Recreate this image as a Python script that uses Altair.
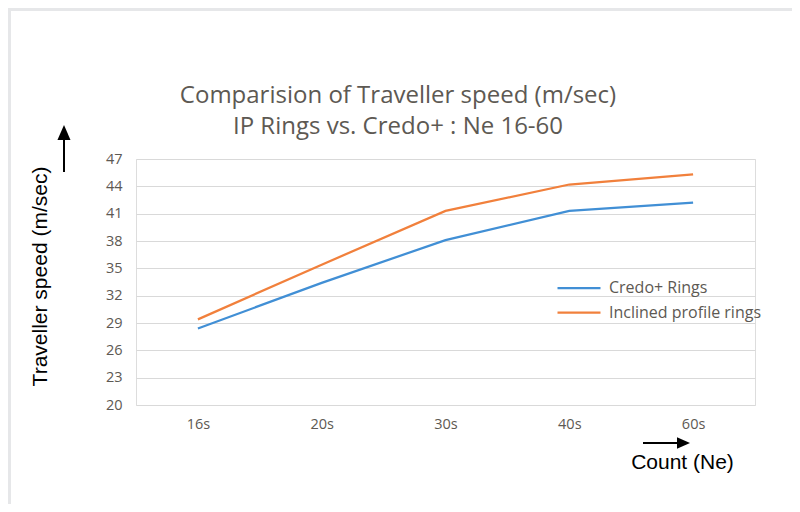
import altair as alt
import pandas as pd

counts = ["16s", "20s", "30s", "40s", "60s"]
credo = [28.4, 33.4, 38.1, 41.3, 42.2]
inclined = [29.4, 35.4, 41.3, 44.2, 45.3]
series_names = ["Credo+ Rings", "Inclined profile rings"]
y_ticks = [20, 23, 26, 29, 32, 35, 38, 41, 44, 47]
title_lines = ["Comparision of Traveller speed (m/sec)", "IP Rings vs. Credo+ : Ne 16-60"]

rows = []
for c, v in zip(counts, credo):
    rows.append({"Count": c, "Speed": v, "Series": series_names[0]})
for c, v in zip(counts, inclined):
    rows.append({"Count": c, "Speed": v, "Series": series_names[1]})
df = pd.DataFrame(rows)
one = pd.DataFrame({"t1": [title_lines[0]], "t2": [title_lines[1]]})

W, H = 619, 246
PL, PT = 128, 151
PR = 784 - PL - W
PB = 496 - PT - H

TICK_FONT = "Open Sans"
GREY = "#5d5953"

# legend line: path spans 2x the nominal symbol box, so length = 2*sqrt(size) = 43px
lines = alt.Chart(df).mark_line(strokeWidth=2.25).encode(
    x=alt.X("Count:O", sort=counts, scale=alt.Scale(type="point", padding=0.5),
            axis=alt.Axis(title="Count (Ne)", labelAngle=0, tickSize=0, domain=False,
                          grid=False, labelPadding=12, labelFontSize=14.5,
                          labelFont=TICK_FONT, labelColor=GREY,
                          titleFont="Liberation Sans", titleFontSize=21,
                          titleFontWeight="normal", titleColor="#000000",
                          titleX=546, titleY=57, titleAlign="center",
                          titleBaseline="middle")),
    y=alt.Y("Speed:Q", scale=alt.Scale(domain=[20, 47], nice=False, zero=False),
            axis=alt.Axis(title="Traveller speed (m/sec)", values=y_ticks, tickSize=0,
                          domain=False, gridColor="#d9d9d9", gridWidth=1.2,
                          labelPadding=14, labelFontSize=14.5, labelFont=TICK_FONT,
                          labelColor=GREY, titleFont="Liberation Sans",
                          titleFontSize=21, titleFontWeight="normal",
                          titleColor="#000000", titleX=-96, titleY=117,
                          titleAlign="center", titleBaseline="middle",
                          titleAngle=-90)),
    color=alt.Color("Series:N", sort=series_names,
                    scale=alt.Scale(domain=series_names, range=["#418fd5", "#f1803c"]),
                    legend=alt.Legend(title=None, orient="none", legendX=431, legendY=117,
                                      symbolType="M-2,0H2", symbolSize=462,
                                      symbolFillColor="transparent",
                                      symbolStrokeWidth=2.25, labelFontSize=16,
                                      labelFont=TICK_FONT, labelColor=GREY,
                                      labelOffset=18, rowPadding=4.5)),
)

title1 = alt.Chart(one).mark_text(font=TICK_FONT, fontSize=24, color=GREY,
                                  align="center", baseline="alphabetic").encode(
    text="t1:N", x=alt.value(262), y=alt.value(-56))
title2 = alt.Chart(one).mark_text(font=TICK_FONT, fontSize=24, color=GREY,
                                  align="center", baseline="alphabetic").encode(
    text="t2:N", x=alt.value(262), y=alt.value(-25))

# decorative arrows
y_shaft = alt.Chart(one).mark_rule(color="#000000", strokeWidth=2).encode(
    x=alt.value(-72), y=alt.value(-20), y2=alt.value(13))
y_head = alt.Chart(one).mark_point(shape="M-0.87,1L0.87,1L0,-1Z", filled=True,
                                   color="#000000", opacity=1, size=225).encode(
    x=alt.value(-72), y=alt.value(-26.5))
x_shaft = alt.Chart(one).mark_rule(color="#000000", strokeWidth=2).encode(
    x=alt.value(507), x2=alt.value(542), y=alt.value(284))
x_head = alt.Chart(one).mark_point(shape="M-1,-0.87L1,0L-1,0.87Z", filled=True,
                                   color="#000000", opacity=1, size=169).encode(
    x=alt.value(547.5), y=alt.value(284))

# grey card border strips
top_strip = alt.Chart(one).mark_rect(color="#e6e7e9").encode(
    x=alt.value(-PL), x2=alt.value(W + PR), y=alt.value(-PT), y2=alt.value(-PT + 3))
left_strip = alt.Chart(one).mark_rect(color="#e6e7e9").encode(
    x=alt.value(-PL), x2=alt.value(-PL + 3), y=alt.value(-PT), y2=alt.value(H + PB))

chart = alt.layer(top_strip, left_strip, lines, title1, title2,
                  y_shaft, y_head, x_shaft, x_head).properties(
    width=W, height=H,
    autosize=alt.AutoSizeParams(type="none"),
    padding={"left": PL, "top": PT, "right": PR, "bottom": PB},
).configure_view(stroke=None).configure(background="#ffffff")

chart.save("out.html", embed_options={"renderer": "svg", "actions": False})
